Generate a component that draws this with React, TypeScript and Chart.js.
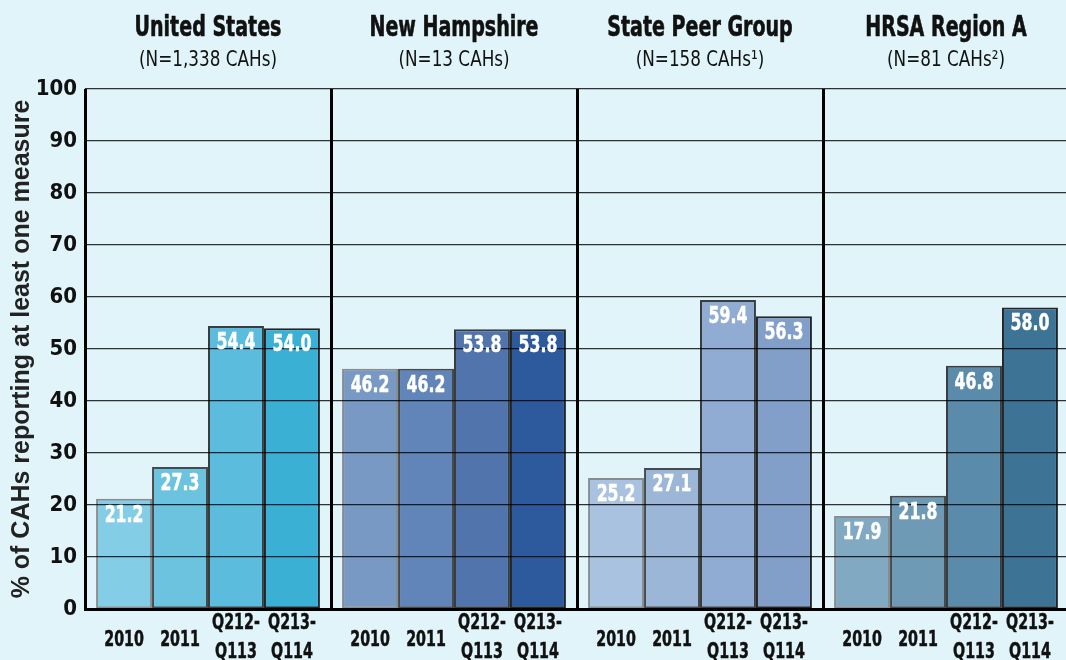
import { useEffect, useRef } from "react";
import { Chart, registerables } from "chart.js";

Chart.register(...registerables);

const regions = ["United States", "New Hampshire", "State Peer Group", "HRSA Region A"];
const regionSubtitles = ["(N=1,338 CAHs)", "(N=13 CAHs)", "(N=158 CAHs\u00B9)", "(N=81 CAHs\u00B2)"];
const periods = ["2010", "2011", "Q212-Q113", "Q213-Q114"];
const periodLabels = [["2010"], ["2011"], ["Q212-", "Q113"], ["Q213-", "Q114"]];

const values2010 = [21.2, 46.2, 25.2, 17.9];
const values2011 = [27.3, 46.2, 27.1, 21.8];
const valuesQ212 = [54.4, 53.8, 59.4, 46.8];
const valuesQ213 = [54.0, 53.8, 56.3, 58.0];

const colors2010 = ["#84cde6", "#7899c4", "#a8c2df", "#82a9c2"];
const colors2011 = ["#6cc3e0", "#6285b9", "#9bb6d6", "#6e9ab5"];
const colorsQ212 = ["#5bbcdd", "#5074ab", "#91acd3", "#5b8bab"];
const colorsQ213 = ["#3ab0d5", "#2c5a9c", "#819fc8", "#3d7496"];
const borderColors = ["#868c90", "#454a4d", "#3a3d40", "#222426"];

const yTitle = "% of CAHs reporting at least one measure";
const yMin = 0;
const yMax = 100;
const yStep = 10;

const BG = "#e0f4f9";
const NARROW = '"Liberation Sans Narrow", "DejaVu Sans Condensed", "Liberation Sans", sans-serif';

const seriesValues = [values2010, values2011, valuesQ212, valuesQ213];
const seriesColors = [colors2010, colors2011, colorsQ212, colorsQ213];

function drawNarrow(
  ctx: CanvasRenderingContext2D,
  text: string,
  x: number,
  y: number,
  sx: number,
  bold = 0
) {
  ctx.save();
  ctx.translate(x, y);
  ctx.scale(sx, 1);
  ctx.fillText(text, 0, 0);
  if (bold > 0) {
    ctx.lineWidth = bold;
    ctx.strokeStyle = ctx.fillStyle as string;
    ctx.lineJoin = "round";
    ctx.strokeText(text, 0, 0);
  }
  ctx.restore();
}

const textPlugin = {
  id: "panelText",
  beforeDraw(chart: any) {
    const ctx = chart.ctx;
    ctx.save();
    ctx.fillStyle = BG;
    ctx.fillRect(0, 0, chart.width, chart.height);
    ctx.restore();
  },
  afterDraw(chart: any) {
    const ctx = chart.ctx;
    const xs = chart.scales.x;
    ctx.save();
    ctx.textAlign = "center";
    ctx.textBaseline = "middle";
    ctx.fillStyle = "#111111";
    regions.forEach((r, i) => {
      const cx = xs.getPixelForValue(i);
      ctx.font = `bold 29px ${NARROW}`;
      drawNarrow(ctx, r, cx, 28, 0.73, 0.6);
      ctx.font = `22px ${NARROW}`;
      drawNarrow(ctx, regionSubtitles[i], cx, 60, 0.85);
    });
    chart.data.datasets.forEach((ds: any, di: number) => {
      const meta = chart.getDatasetMeta(di);
      meta.data.forEach((bar: any, i: number) => {
        const v = ds.data[i];
        ctx.fillStyle = "#ffffff";
        ctx.font = `bold 23px ${NARROW}`;
        drawNarrow(ctx, v.toFixed(1), bar.x, bar.y + 17, 0.76, 0.5);
        ctx.fillStyle = "#111111";
        ctx.font = `bold 22px ${NARROW}`;
        const lines = periodLabels[di];
        if (lines.length === 1) {
          drawNarrow(ctx, lines[0], bar.x, 640, 0.72, 0.5);
        } else {
          drawNarrow(ctx, lines[0], bar.x, 623, 0.72, 0.5);
          drawNarrow(ctx, lines[1], bar.x, 652, 0.72, 0.5);
        }
      });
    });
    ctx.restore();
  },
};

export default function App() {
  const ref = useRef<HTMLCanvasElement | null>(null);

  useEffect(() => {
    document.body.style.margin = "0";
    document.body.style.background = BG;
    document.body.style.overflow = "hidden";
    const canvas = ref.current;
    if (!canvas) return;
    const chart = new Chart(canvas, {
      type: "bar",
      data: {
        labels: regions,
        datasets: periods.map((p, di) => ({
          label: p,
          data: seriesValues[di],
          backgroundColor: seriesColors[di],
          borderColor: borderColors[di],
          borderWidth: 2,
          borderSkipped: false,
          categoryPercentage: 0.91,
          barPercentage: 1.0,
        })),
      },
      options: {
        responsive: false,
        animation: false,
        devicePixelRatio: 1,
        layout: { padding: { top: 89, bottom: 51, left: 0, right: 3 } },
        plugins: {
          legend: { display: false },
          tooltip: { enabled: false },
        },
        scales: {
          x: {
            type: "category",
            position: "bottom",
            offset: true,
            ticks: { display: false },
            grid: {
              display: true,
              offset: true,
              color: "#000",
              lineWidth: 3,
              drawTicks: false,
              tickLength: 0,
            },
            border: { display: true, color: "#000", width: 3, z: 2 },
            afterFit: (s: any) => {
              s.height = 0;
            },
          },
          y: {
            type: "linear",
            min: yMin,
            max: yMax,
            ticks: {
              stepSize: yStep,
              color: "#111",
              padding: 8,
              font: { family: NARROW, size: 22, weight: "bold" },
            },
            grid: {
              color: "rgba(0,0,0,0.8)",
              lineWidth: 1.3,
              drawTicks: false,
              tickLength: 0,
              z: 1,
            },
            border: { display: false },
            title: {
              display: true,
              text: yTitle,
              color: "#222",
              padding: { top: 7, bottom: 0 },
              font: { family: '"Liberation Sans", Arial, sans-serif', size: 25, weight: "bold", lineHeight: 1.2 },
            },
            afterFit: (s: any) => {
              s.width = 85;
            },
          },
        },
      },
      plugins: [textPlugin],
    });
    return () => chart.destroy();
  }, []);

  return (
    <div style={{ position: "fixed", left: 0, top: 0, width: 1072, height: 660, background: BG }}>
      <canvas ref={ref} width={1072} height={660} style={{ width: 1072, height: 660, display: "block" }} />
    </div>
  );
}
